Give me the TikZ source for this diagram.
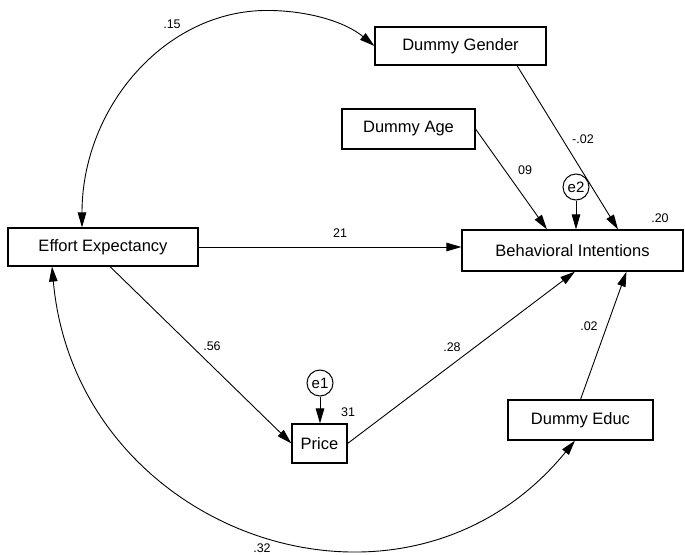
\documentclass[tikz,border=0pt]{standalone}
\usepackage{fontspec}
\setmainfont{Liberation Sans}
\usepackage{tikz}
\usetikzlibrary{arrows.meta}
\tikzstyle{obsbox} = [rectangle, draw=black, line width=1.1pt, inner sep=0pt, text centered, font=\fontsize{16.5}{19}\selectfont]
\tikzstyle{errnode} = [circle, draw=black, line width=1pt, minimum size=26pt, inner sep=0pt, font=\fontsize{15}{17}\selectfont]
\tikzstyle{coef} = [inner sep=0pt, font=\fontsize{12.5}{14}\selectfont]
\tikzstyle{arrow} = [line width=0.9pt, -{Stealth[inset=0pt, length=15pt, width=8.5pt]}]
\tikzstyle{covar} = [line width=0.9pt, {Stealth[inset=0pt, length=15pt, width=8.5pt]}-{Stealth[inset=0pt, length=15pt, width=8.5pt]}]
\begin{document}
\begin{tikzpicture}[x=1pt,y=-1pt]
		\useasboundingbox (0,0) rectangle (685,554);
		\coordinate (gender) at (460.5,46);
		\coordinate (age) at (408.5,129);
		\coordinate (effort) at (103,247);
		\coordinate (intent) at (572.5,250.5);
		\coordinate (price) at (319.5,443.5);
		\coordinate (educ) at (580.5,420);
		\coordinate (e1) at (320,383);
		\coordinate (e2) at (576,187);
		% Observed variables
		\node[obsbox, name=gender, minimum width=171pt, minimum height=38pt] at (gender) {Dummy Gender};
		\node[obsbox, name=age, minimum width=133pt, minimum height=40pt] at (age) {Dummy Age};
		\node[obsbox, name=effort, minimum width=190pt, minimum height=38pt] at (effort) {Effort Expectancy};
		\node[obsbox, name=intent, minimum width=221pt, minimum height=41pt] at (intent) {Behavioral Intentions};
		\node[obsbox, name=price, minimum width=55pt, minimum height=39pt] at (price) {Price};
		\node[obsbox, name=educ, minimum width=145pt, minimum height=40pt] at (educ) {Dummy Educ};
		% Error terms
		\node[errnode, name=e1] at (e1) {e1};
		\node[errnode, name=e2] at (e2) {e2};
		% Regression paths
		\draw [arrow] (effort.east) -- (effort.east -| intent.west);
		\draw [arrow] ([xshift=7pt]effort.south) -- (price.west);
		\draw [arrow] (price.east) -- ([xshift=2.5pt]intent.south);
		\draw [arrow] (educ.north) -- ([xshift=54pt]intent.south);
		\draw [arrow] (age.east) -- ([xshift=-25.5pt]intent.north);
		\draw [arrow] ([xshift=56.5pt]gender.south) -- ([xshift=45.5pt]intent.north);
		\draw [arrow] (e2) -- (e2 |- intent.north);
		\draw [arrow] (e1) -- (e1 |- price.north);
		% Covariances
		\draw [covar] ([xshift=-21pt]effort.north) .. controls +(0,-120) and +(-102,0) .. ++(185,-217) .. controls +(38,0) and +(-31,-25.5) .. (gender.west);
		\draw [covar] ([xshift=-51pt]effort.south) .. controls +(24,268) and +(-171,209) .. ([xshift=-5.5pt]educ.south);
		% Estimates
		\node[coef, name=c15] at (172,24) {.15};
		\node[coef, name=c21] at (340,233) {21};
		\node[coef, name=c56] at (212,346) {.56};
		\node[coef, name=c28] at (452,347) {.28};
		\node[coef, name=c02] at (589,326) {.02};
		\node[coef, name=c09] at (525,170) {09};
		\node[coef, name=cm02] at (583,139) {-.02};
		\node[coef, name=r20] at (660,218) {.20};
		\node[coef, name=r31] at (348,412) {31};
		\node[coef, name=c32] at (262,548) {.32};
\end{tikzpicture}
\end{document}
